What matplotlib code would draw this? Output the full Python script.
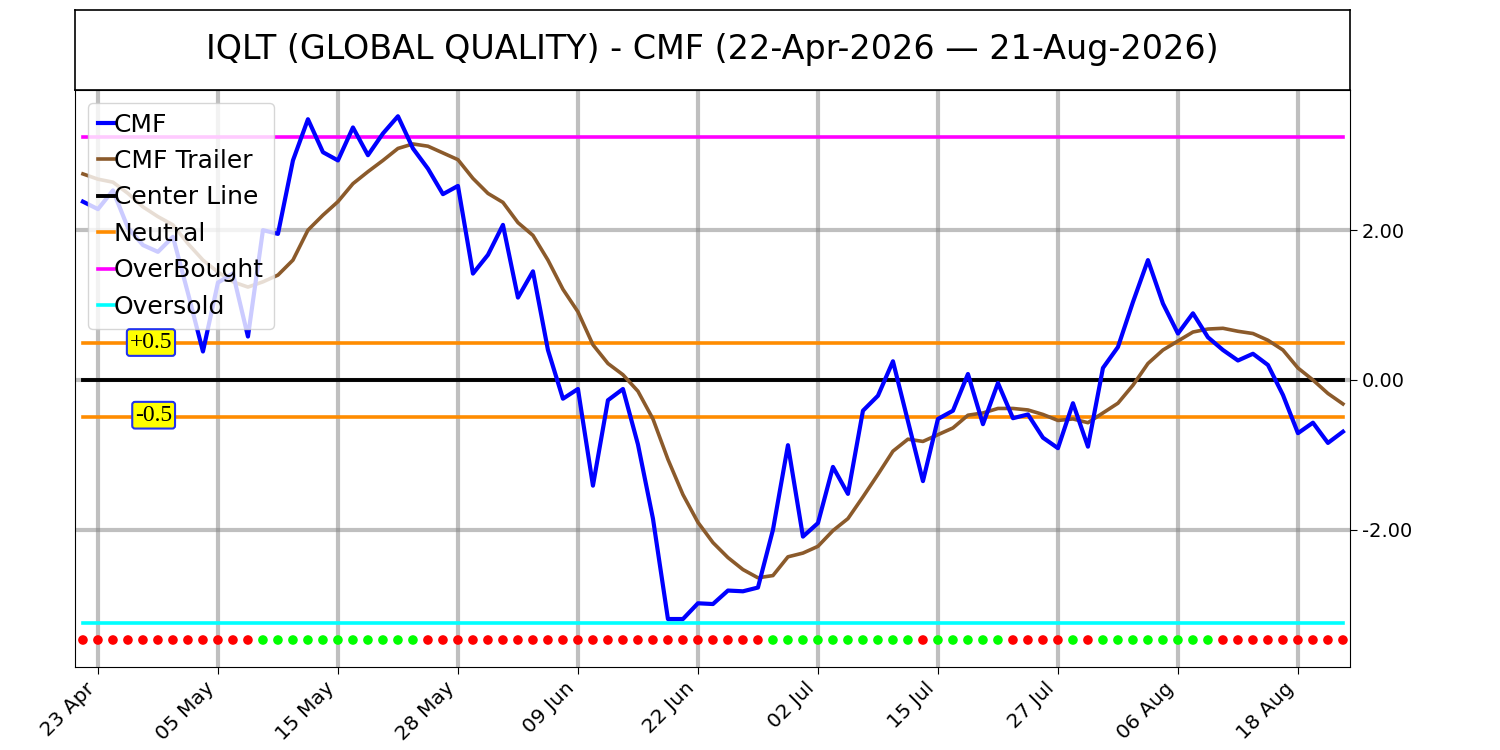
import numpy as np
import pandas as pd
import matplotlib
matplotlib.use("Agg")
import matplotlib.pyplot as plt

# trading days 22-Apr-2026 .. 21-Aug-2026 (US market holidays skipped)
holidays = ["2026-05-25", "2026-06-19", "2026-07-03"]
dates = pd.bdate_range("2026-04-22", "2026-08-21", freq="C", holidays=holidays)

cmf = [2.38, 2.28, 2.53, 2.03, 1.80, 1.71, 1.91, 1.16, 0.38, 1.30,
       1.42, 0.58, 2.00, 1.95, 2.93, 3.48, 3.04, 2.93, 3.37, 3.00,
       3.29, 3.52, 3.09, 2.82, 2.48, 2.59, 1.42, 1.67, 2.07, 1.10,
       1.45, 0.40, -0.25, -0.12, -1.41, -0.27, -0.12, -0.86, -1.85, -3.19,
       -3.19, -2.98, -2.99, -2.81, -2.82, -2.77, -2.00, -0.87, -2.09, -1.91,
       -1.16, -1.52, -0.41, -0.21, 0.25, -0.55, -1.35, -0.52, -0.41, 0.08,
       -0.59, -0.04, -0.51, -0.46, -0.77, -0.91, -0.31, -0.89, 0.16, 0.44,
       1.04, 1.60, 1.02, 0.62, 0.89, 0.57, 0.40, 0.26, 0.35, 0.20,
       -0.20, -0.71, -0.57, -0.84, -0.69]

trailer = [2.75, 2.68, 2.64, 2.49, 2.31, 2.18, 2.07, 1.82, 1.60, 1.44,
           1.31, 1.24, 1.31, 1.40, 1.60, 2.00, 2.20, 2.38, 2.62, 2.78,
           2.93, 3.09, 3.15, 3.12, 3.03, 2.94, 2.69, 2.49, 2.37, 2.10,
           1.93, 1.60, 1.21, 0.91, 0.47, 0.22, 0.07, -0.15, -0.52, -1.06,
           -1.53, -1.90, -2.17, -2.37, -2.53, -2.64, -2.61, -2.36, -2.31, -2.22,
           -2.01, -1.85, -1.56, -1.26, -0.95, -0.79, -0.82, -0.73, -0.64, -0.47,
           -0.44, -0.38, -0.38, -0.40, -0.46, -0.54, -0.52, -0.57, -0.44, -0.31,
           -0.07, 0.22, 0.40, 0.52, 0.64, 0.68, 0.69, 0.65, 0.62, 0.53,
           0.40, 0.16, 0.00, -0.18, -0.32]

# 1 = bullish (green dot), 0 = bearish (red dot)
signal = [0] * 12 + [1] * 11 + [0] * 23 + [1] * 10 + [0] + [1] * 5 + \
         [0] * 4 + [1] + [0] + [1] * 8 + [0] * 9

overbought = 3.24
oversold = -3.24
neutral = 0.5
dot_level = -3.47

n = len(cmf)
x = np.arange(n)

fig = plt.figure(figsize=(15, 7.5), dpi=100)
ax_t = fig.add_axes([0.05, 0.88, 0.85, 0.1067])
ax_t.set_xticks([])
ax_t.set_yticks([])
for s in ax_t.spines.values():
    s.set_linewidth(1.2)
ax_t.text(0.5, 0.5, "IQLT (GLOBAL QUALITY) - CMF (%s \u2014 %s)"
          % (dates[0].strftime("%d-%b-%Y"), dates[-1].strftime("%d-%b-%Y")),
          ha="center", va="center", fontsize=24, transform=ax_t.transAxes)

ax = fig.add_axes([0.05, 0.1107, 0.85, 0.7693])
ax.plot(x, cmf, color="#0000ff", lw=3, label="CMF", zorder=5)
ax.plot(x, trailer, color="#8b5a2b", lw=2.6, label="CMF Trailer", zorder=4)
ax.plot(x, np.zeros(n), color="black", lw=2.8, label="Center Line", zorder=3)
ax.plot(x, np.full(n, neutral), color="#ff8c00", lw=2.6, label="Neutral", zorder=3)
ax.plot(x, np.full(n, -neutral), color="#ff8c00", lw=2.6, zorder=3)
ax.plot(x, np.full(n, overbought), color="#ff00ff", lw=2.6, label="OverBought", zorder=3)
ax.plot(x, np.full(n, oversold), color="#00ffff", lw=2.6, label="Oversold", zorder=3)

dot_colors = ["#00ff00" if s else "#ff0000" for s in signal]
ax.scatter(x, np.full(n, dot_level), c=dot_colors, s=48, zorder=6, linewidths=0)

box = dict(boxstyle="round,pad=0.12", facecolor="yellow", edgecolor="#2233ee", lw=1.5)
ax.text(5.95, neutral, "+0.5", ha="right", va="center", fontsize=17,
        family="Liberation Serif", bbox=box, zorder=7)
ax.text(5.95, -neutral + 0.03, "-0.5", ha="right", va="center", fontsize=17,
        family="Liberation Serif", bbox=box, zorder=7)

ticks = list(range(1, n, 8))
ax.set_xticks(ticks)
ax.set_xticklabels([dates[i].strftime("%d %b") for i in ticks],
                   rotation=45, ha="right", fontsize=14.5)
ax.set_yticks([-2, 0, 2])
ax.set_yticklabels(["%.2f" % v for v in [-2, 0, 2]], fontsize=14)
ax.yaxis.tick_right()
ax.tick_params(length=5)
ax.set_xlim(-0.53, n - 0.53)
ax.set_ylim(-3.83, 3.87)
ax.grid(True, color="gray", alpha=0.5, lw=3)
ax.set_axisbelow(True)

ax.legend(loc="upper left", fontsize=18, handlelength=0.65, handletextpad=0.0,
          framealpha=0.8)

fig.savefig("out.png", dpi=100)
